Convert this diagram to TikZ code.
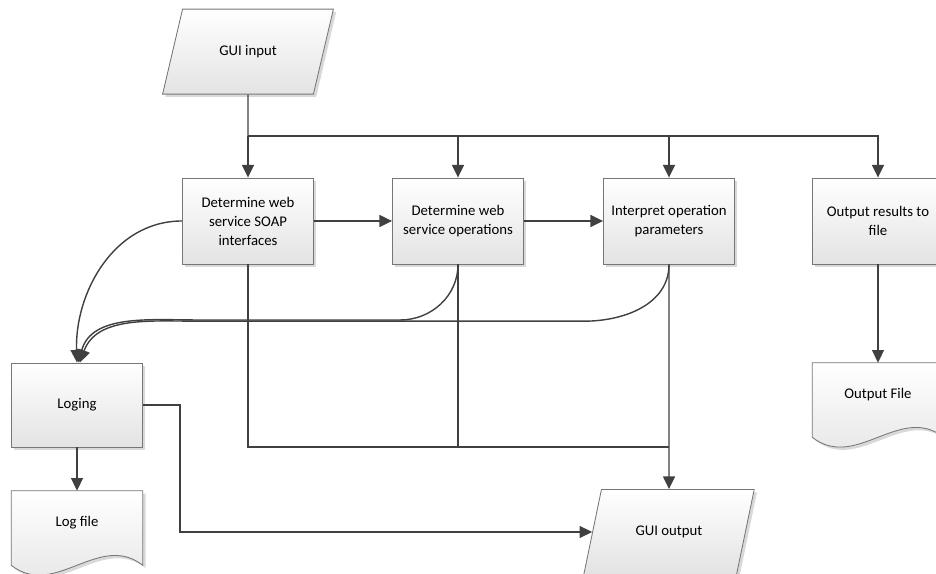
\documentclass[tikz,border=0pt]{standalone}
\usepackage{fontspec}
\setmainfont{Carlito}
\usepackage{tikz}
\usetikzlibrary{shapes.geometric,arrows.meta,shadows,backgrounds}
\definecolor{wire}{HTML}{404040}
\definecolor{rim}{HTML}{767676}

\begin{document}
\begin{tikzpicture}[
	>={Triangle[length=9pt,width=8.5pt]},
	every node/.style={font=\fontsize{10.5}{13.5}\selectfont, align=center},
	panel/.style={top color=white, bottom color=black!11, draw=rim, line width=0.6pt,
		drop shadow={opacity=0.3, shadow xshift=0.07cm, shadow yshift=-0.07cm}},
	box/.style={panel, rectangle, minimum width=3.275cm, minimum height=2.15cm},
	io/.style={panel, trapezium, trapezium left angle=65, trapezium right angle=115,
		trapezium stretches=true, minimum width=4.275cm, minimum height=2.125cm},
	doc/.style={rectangle, minimum width=3.275cm, minimum height=1.6cm},
	link/.style={->, draw=wire, line width=1pt},
	line/.style={draw=wire, line width=1pt}]
	\useasboundingbox (0,0) rectangle (23.4,14.35);
	% input and the four steps
	\node[io] (guiin) at (6.2,13.06) {GUI input};
	\node[box] (soap) at (6.2,8.825) {Determine web\\service SOAP\\interfaces};
	\node[box] (ops) at (11.45,8.825) {Determine web\\service operations};
	\node[box] (interp) at (16.725,8.825) {Interpret operation\\parameters};
	\node[box] (outres) at (21.95,8.825) {Output results to\\file};
	% log and outputs
	\node[box, minimum height=2.1cm] (loging) at (1.925,4.225) {Loging};
	\node[doc] (logfile) at (1.925,1.275) {Log file};
	\node[doc] (outfile) at (21.95,4.475) {Output File};
	\node[io] (guiout) at (16.725,1.05) {GUI output};
	\begin{scope}[on background layer]
		\foreach \d in {logfile,outfile}
			\draw[panel] (\d.north west) -- (\d.north east) -- ([yshift=-0.25cm]\d.south east)
				.. controls ([xshift=-1.09cm,yshift=0.6cm]\d.south east) and ([xshift=1.09cm,yshift=-1.1cm]\d.south west)
				.. ([yshift=-0.25cm]\d.south west) -- cycle;
	\end{scope}
	% connectors
	\coordinate (split) at (6.2,10.95);
	\coordinate (merge) at (16.725,3.175);
	\coordinate (turn) at (4.5,4.225);
	\draw[line] (guiin) -- (split);
	\draw[link] (split) -- (soap);
	\draw[link] (split) -| (outres);
	\draw[link] (split -| ops) -- (ops);
	\draw[link] (split -| interp) -- (interp);
	\draw[link] (soap) -- (ops);
	\draw[link] (ops) -- (interp);
	\draw[line] (soap) |- (merge);
	\draw[line] (ops) -- (ops |- merge);
	\draw[link] (interp) -- (guiout);
	\draw[link] (outres) -- (outfile);
	\draw[link] (loging) -- (logfile);
	\draw[link] (loging.east) -- (turn) |- (guiout);
	% curved links into the log
	\draw[link] (soap.west) to[out=180,in=92] (loging.north);
	\draw[link] (ops.south) to[out=-90,in=0] (10.0,6.35) -- (5.0,6.35) to[out=180,in=75] ([xshift=1pt]loging.north);
	\draw[link] (interp.south) to[out=-90,in=0] (14.6,6.32) -- (5.0,6.32) to[out=180,in=70] ([xshift=2pt]loging.north);
\end{tikzpicture}
\end{document}
